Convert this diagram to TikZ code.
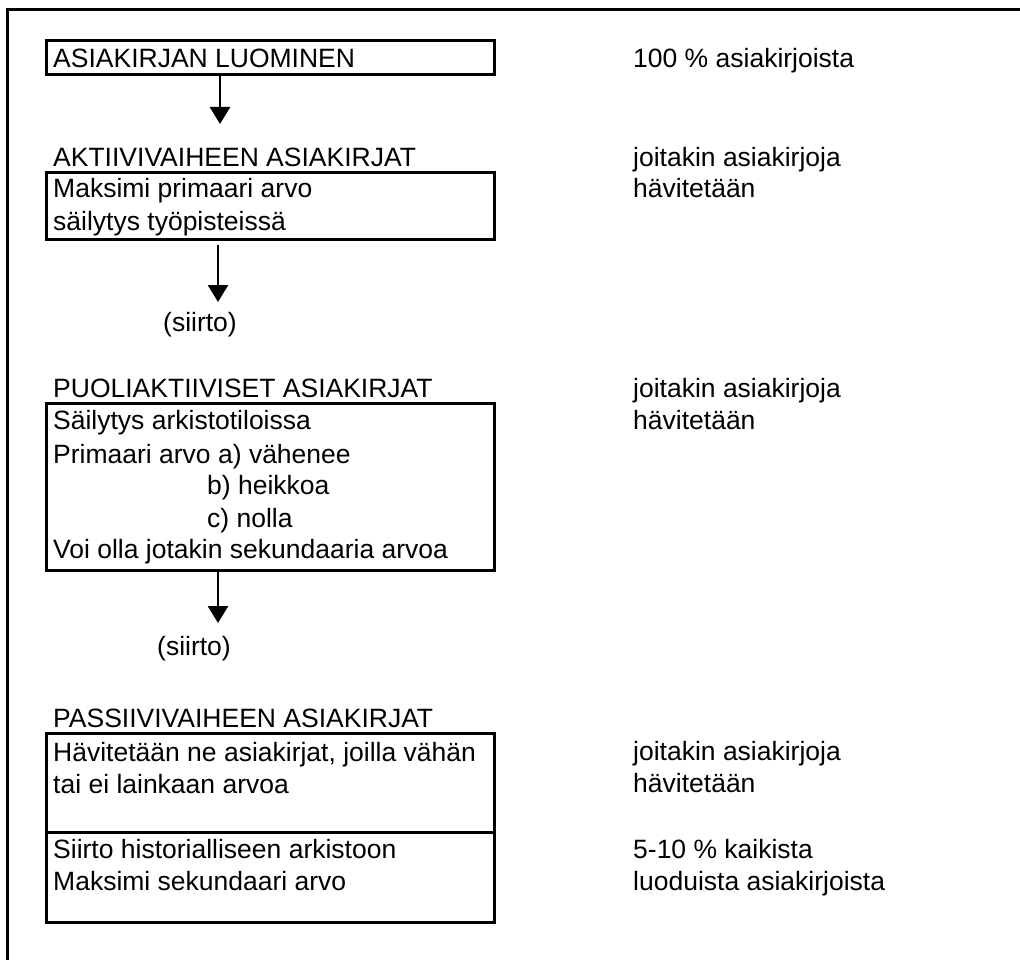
\documentclass[tikz,border=0pt]{standalone}
\usepackage{fontspec}
\setmainfont{Liberation Sans}
\usetikzlibrary{arrows.meta}
\tikzset{
	box/.style = {draw, line width=3pt, anchor=north west, inner sep=0pt, outer sep=0pt, minimum width=448pt},
	txt/.style = {anchor=base west, inner sep=0pt, font=\fontsize{26.5}{32}\selectfont},
	flow/.style = {-{Triangle[width=20pt,length=17pt]}, line width=2.8pt}
}

\begin{document}
\begin{tikzpicture}[x = 1pt, y = -1pt]
	\useasboundingbox (0,0) rectangle (1020,960);
	\draw[line width=3pt] (7,960) -- (7,9.5) -- (1020,9.5);
	
	% laatikot
	\node[box, minimum height=34pt] (luo) at (46,41) {};
	\node[box, minimum height=67pt] (akt) at (46,173) {};
	\node[box, minimum height=167pt] (puo) at (46,403) {};
	\node[box, minimum height=99pt] (pas) at (46,733) {};
	\node[box, minimum height=90pt] (arki) at (46,832) {};
	
	% vasen sarake
	\node[txt] (luoT) at (53,68) {ASIAKIRJAN LUOMINEN};
	\node[txt] (aktT) at (53,167) {AKTIIVIVAIHEEN ASIAKIRJAT};
	\node[txt] (akt1) at (53,198) {Maksimi primaari arvo};
	\node[txt] (akt2) at (53,231) {säilytys työpisteissä};
	\node[txt] (siirto1) at (163,331) {(siirto)};
	\node[txt] (puoT) at (53,397) {PUOLIAKTIIVISET ASIAKIRJAT};
	\node[txt] (puo1) at (53,429) {Säilytys arkistotiloissa};
	\node[txt] (puo2) at (53,463) {Primaari arvo a) vähenee};
	\node[txt] (puo3) at (207,494) {b) heikkoa};
	\node[txt] (puo4) at (207,527) {c) nolla};
	\node[txt] (puo5) at (53,558) {Voi olla jotakin sekundaaria arvoa};
	\node[txt] (siirto2) at (157,655) {(siirto)};
	\node[txt] (pasT) at (53,727) {PASSIIVIVAIHEEN ASIAKIRJAT};
	\node[txt] (pas1) at (53,761) {Hävitetään ne asiakirjat, joilla vähän};
	\node[txt] (pas2) at (53,793) {tai ei lainkaan arvoa};
	\node[txt] (arki1) at (53,858) {Siirto historialliseen arkistoon};
	\node[txt] (arki2) at (53,890) {Maksimi sekundaari arvo};
	
	% oikea sarake
	\node[txt] (r1) at (633,68) {100 \% asiakirjoista};
	\node[txt] (r2) at (633,167) {joitakin asiakirjoja};
	\node[txt] (r3) at (633,198) {hävitetään};
	\node[txt] (r4) at (633,397) {joitakin asiakirjoja};
	\node[txt] (r5) at (633,429) {hävitetään};
	\node[txt] (r6) at (633,760) {joitakin asiakirjoja};
	\node[txt] (r7) at (633,792) {hävitetään};
	\node[txt] (r8) at (633,858) {5-10 \% kaikista};
	\node[txt] (r9) at (633,890) {luoduista asiakirjoista};
	
	% nuolet
	\coordinate (tip1) at (220,124);
	\coordinate (tip2) at (218,302);
	\coordinate (tip3) at (218,623);
	\draw[flow] (luo.south -| tip1) -- (tip1);
	\draw[flow, shorten <=5pt] (akt.south -| tip2) -- (tip2);
	\draw[flow] (puo.south -| tip3) -- (tip3);
\end{tikzpicture}
\end{document}
